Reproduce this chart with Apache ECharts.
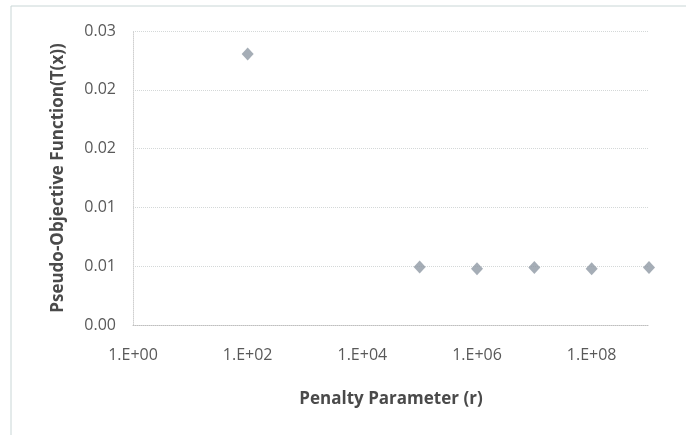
<!DOCTYPE html>
<html>
<head>
<meta charset="utf-8">
<script src="https://cdn.jsdelivr.net/npm/echarts@6/dist/echarts.min.js"></script>
<style>
  html, body { margin: 0; padding: 0; background: #ffffff; }
  #chart { width: 686px; height: 435px; }
</style>
</head>
<body>
<div id="chart"></div>
<script>
// Penalty parameter r (log scale) and the pseudo-objective function value T(x)
const penaltyParams = [1e2, 1e5, 1e6, 1e7, 1e8, 1e9];
const pseudoObjective = [0.02305, 0.00494, 0.00479, 0.00490, 0.00479, 0.00490];

// Y tick labels rounded half-up to two decimals
const yTickDecimals = 2;

const chart = echarts.init(document.getElementById('chart'), null, { renderer: 'canvas' });

const points = penaltyParams.map((r, i) => [r, pseudoObjective[i]]);

const labelFont = '"Open Sans", "DejaVu Sans", sans-serif';

function roundLabel(v) {
  const f = Math.pow(10, yTickDecimals);
  return (Math.round(v * f + 1e-6) / f).toFixed(yTickDecimals);
}

chart.setOption({
  animation: false,
  backgroundColor: '#ffffff',
  graphic: [{
    type: 'rect',
    shape: { x: 11, y: 6, width: 700, height: 460 },
    style: { fill: 'none', stroke: '#c9d6d6', lineWidth: 1 },
    silent: true
  }],
  grid: { left: 133, right: 37, top: 31, bottom: 110 },
  xAxis: {
    type: 'log',
    logBase: 10,
    min: 1,
    max: 1e9,
    interval: 2,
    name: 'Penalty Parameter (r)',
    nameLocation: 'middle',
    nameGap: 66,
    nameTextStyle: { fontFamily: labelFont, fontSize: 17, fontWeight: 'bold', color: '#4a4a4a' },
    axisLine: { show: true, lineStyle: { color: '#bfbfbf', type: 'dotted' } },
    axisTick: { show: false },
    splitLine: { show: false },
    minorTick: { show: false },
    axisLabel: {
      margin: 22,
      showMaxLabel: false,
      fontFamily: labelFont,
      fontSize: 16,
      color: '#595959',
      formatter: function (v) {
        const e = Math.round(Math.log10(v));
        return '1.E+' + (e < 10 ? '0' + e : e);
      }
    }
  },
  yAxis: {
    type: 'value',
    min: 0,
    max: 0.025,
    interval: 0.005,
    name: 'Pseudo-Objective Function(T(x))',
    nameLocation: 'middle',
    nameGap: 66,
    nameTextStyle: { fontFamily: labelFont, fontSize: 17, fontWeight: 'bold', color: '#4a4a4a' },
    axisLine: { show: true, lineStyle: { color: '#d0d0d0', type: 'dotted' } },
    axisTick: { show: false },
    splitLine: { show: true, lineStyle: { color: '#d4d8d8', type: 'dotted', width: 1 } },
    axisLabel: {
      margin: 17,
      fontFamily: labelFont,
      fontSize: 16,
      color: '#595959',
      formatter: roundLabel
    }
  },
  series: [{
    type: 'scatter',
    data: points,
    symbol: 'diamond',
    symbolSize: [12, 13],
    itemStyle: { color: '#8f99a4' }
  }]
});
</script>
</body>
</html>
